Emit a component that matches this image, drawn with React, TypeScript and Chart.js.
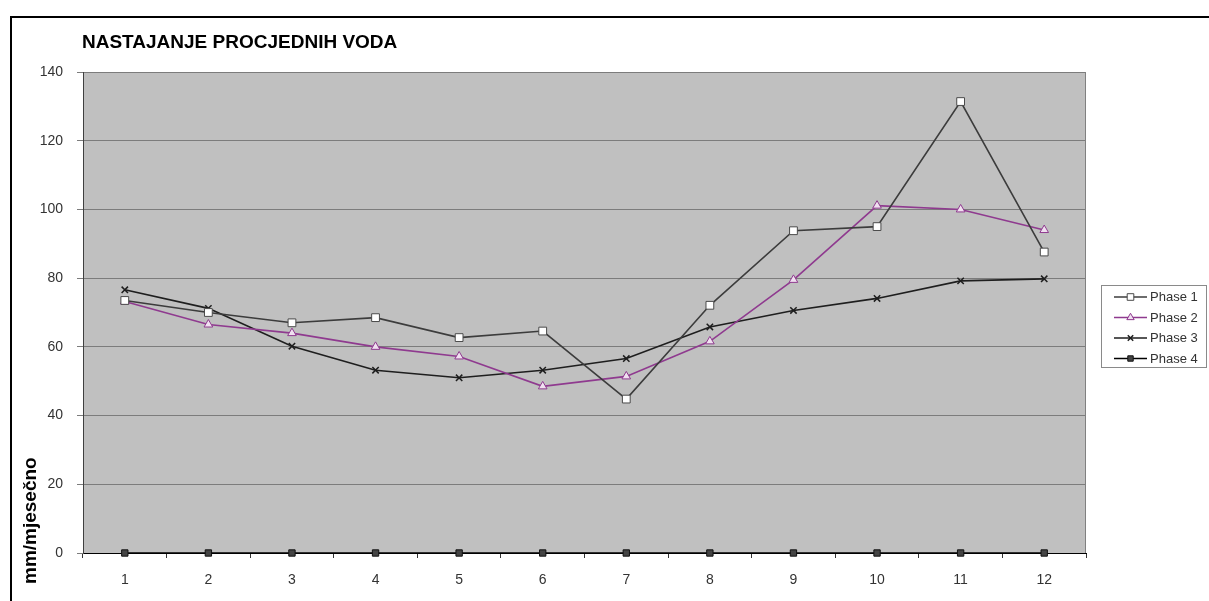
import React, { useEffect, useRef } from "react";
import { Chart, registerables } from "chart.js";
import { drawPoint } from "chart.js/helpers";

Chart.register(...registerables);

const categories = ["1", "2", "3", "4", "5", "6", "7", "8", "9", "10", "11", "12"];
const phase1 = [73.5, 70, 67, 68.5, 62.7, 64.6, 44.8, 72.1, 93.8, 95, 131.4, 87.6];
const phase2 = [73.2, 66.5, 64, 60, 57.2, 48.5, 51.4, 61.6, 79.5, 101.1, 100, 94];
const phase3 = [76.6, 71.2, 60.2, 53.2, 51, 53.2, 56.6, 65.8, 70.6, 74.1, 79.2, 79.8];
const phase4 = [0, 0, 0, 0, 0, 0, 0, 0, 0, 0, 0, 0];
const seriesNames = ["Phase 1", "Phase 2", "Phase 3", "Phase 4"];
const titleText = "NASTAJANJE PROCJEDNIH VODA";
const yTitleText = "mm/mjesečno";

const FONT = "Arial, 'Liberation Sans', sans-serif";

const decorPlugin = {
  id: "decor",
  beforeDraw(chart: any) {
    const { ctx, chartArea } = chart;
    ctx.save();
    ctx.fillStyle = "#ffffff";
    ctx.fillRect(0, 0, chart.width, chart.height);
    ctx.strokeStyle = "#000000";
    ctx.lineWidth = 2;
    ctx.strokeRect(11, 17, 1400, 800);
    ctx.fillStyle = "#c0c0c0";
    ctx.fillRect(chartArea.left, chartArea.top, chartArea.right - chartArea.left, chartArea.bottom - chartArea.top);
    ctx.restore();
  },
  beforeDatasetsDraw(chart: any) {
    const { ctx, chartArea } = chart;
    ctx.save();
    ctx.strokeStyle = "#808080";
    ctx.lineWidth = 1;
    ctx.beginPath();
    ctx.moveTo(chartArea.right - 0.5, chartArea.top);
    ctx.lineTo(chartArea.right - 0.5, chartArea.bottom);
    ctx.stroke();
    ctx.restore();
  },
  afterDraw(chart: any) {
    const { ctx } = chart;
    ctx.save();
    // title
    ctx.fillStyle = "#000000";
    ctx.font = `bold 19px ${FONT}`;
    ctx.textAlign = "left";
    ctx.textBaseline = "alphabetic";
    ctx.fillText(titleText, 82, 48);
    // y axis title
    ctx.save();
    ctx.translate(36, 584);
    ctx.rotate(-Math.PI / 2);
    ctx.font = `bold 19px ${FONT}`;
    ctx.fillText(yTitleText, 0, 0);
    ctx.restore();
    // legend
    const bx = 1101, by = 285, bw = 105, bh = 82;
    ctx.fillStyle = "#ffffff";
    ctx.fillRect(bx, by, bw, bh);
    ctx.strokeStyle = "#8a8a8a";
    ctx.lineWidth = 1;
    ctx.strokeRect(bx + 0.5, by + 0.5, bw, bh);
    chart.data.datasets.forEach((ds: any, i: number) => {
      const y = by + 12 + i * 20.5;
      ctx.strokeStyle = ds.borderColor;
      ctx.lineWidth = ds.borderWidth;
      ctx.beginPath();
      ctx.moveTo(1114, y);
      ctx.lineTo(1147, y);
      ctx.stroke();
      ctx.fillStyle = ds.pointBackgroundColor;
      ctx.strokeStyle = ds.pointBorderColor;
      ctx.lineWidth = ds.pointBorderWidth;
      drawPoint(ctx, { pointStyle: ds.pointStyle, radius: ds.pointRadius * 0.85, borderWidth: ds.pointBorderWidth, rotation: 0 }, 1130.5, y);
      ctx.fillStyle = "#333333";
      ctx.font = `13px ${FONT}`;
      ctx.textBaseline = "middle";
      ctx.textAlign = "left";
      ctx.fillText(seriesNames[i], 1150, y + 0.5);
    });
    ctx.restore();
  },
};

export default function App() {
  const ref = useRef<HTMLCanvasElement | null>(null);
  useEffect(() => {
    if (!ref.current) return;
    const chart = new Chart(ref.current, {
      type: "line",
      data: {
        labels: categories,
        datasets: [
          {
            label: seriesNames[0],
            data: phase1,
            borderColor: "#3c3c3c",
            borderWidth: 1.6,
            pointStyle: "rect",
            pointRadius: 5.5,
            pointBackgroundColor: "#ffffff",
            pointBorderColor: "#4a4a4a",
            pointBorderWidth: 1,
            clip: false,
          },
          {
            label: seriesNames[1],
            data: phase2,
            borderColor: "#8f3a8f",
            borderWidth: 1.6,
            pointStyle: "triangle",
            pointRadius: 5,
            pointBackgroundColor: "#f0e0f0",
            pointBorderColor: "#8f3a8f",
            pointBorderWidth: 1,
            clip: false,
          },
          {
            label: seriesNames[2],
            data: phase3,
            borderColor: "#1e1e1e",
            borderWidth: 1.6,
            pointStyle: "crossRot",
            pointRadius: 4.5,
            pointBackgroundColor: "#1e1e1e",
            pointBorderColor: "#1e1e1e",
            pointBorderWidth: 1.5,
            clip: false,
          },
          {
            label: seriesNames[3],
            data: phase4,
            borderColor: "#000000",
            borderWidth: 1.6,
            pointStyle: "rect",
            pointRadius: 4.5,
            pointBackgroundColor: "#444444",
            pointBorderColor: "#111111",
            pointBorderWidth: 1,
            clip: false,
          },
        ],
      },
      options: {
        animation: false,
        responsive: false,
        layout: { padding: { left: 0, top: 72, right: 123, bottom: 0 } },
        plugins: { legend: { display: false }, title: { display: false }, tooltip: { enabled: false } },
        scales: {
          x: {
            type: "category",
            offset: true,
            grid: { offset: true, drawOnChartArea: false, drawTicks: true, tickLength: 5, color: "#333333" },
            border: { display: true, color: "#000000", width: 1 },
            ticks: { color: "#333333", font: { family: FONT, size: 14 }, padding: 14, maxRotation: 0 },
            afterFit: (s: any) => { s.height = 48; },
          },
          y: {
            min: 0,
            max: 140,
            ticks: { stepSize: 20, color: "#333333", font: { family: FONT, size: 14 }, padding: 14 },
            grid: { color: "#7c7c7c", lineWidth: 1, tickLength: 6, drawTicks: true },
            border: { display: true, color: "#404040", width: 1 },
            afterFit: (s: any) => { s.width = 83; },
          },
        },
      },
      plugins: [decorPlugin],
    });
    return () => chart.destroy();
  }, []);
  return (
    <div style={{ position: "fixed", left: 0, top: 0, width: 1209, height: 601 }}>
      <canvas ref={ref} width={1209} height={601} style={{ display: "block" }} />
    </div>
  );
}
